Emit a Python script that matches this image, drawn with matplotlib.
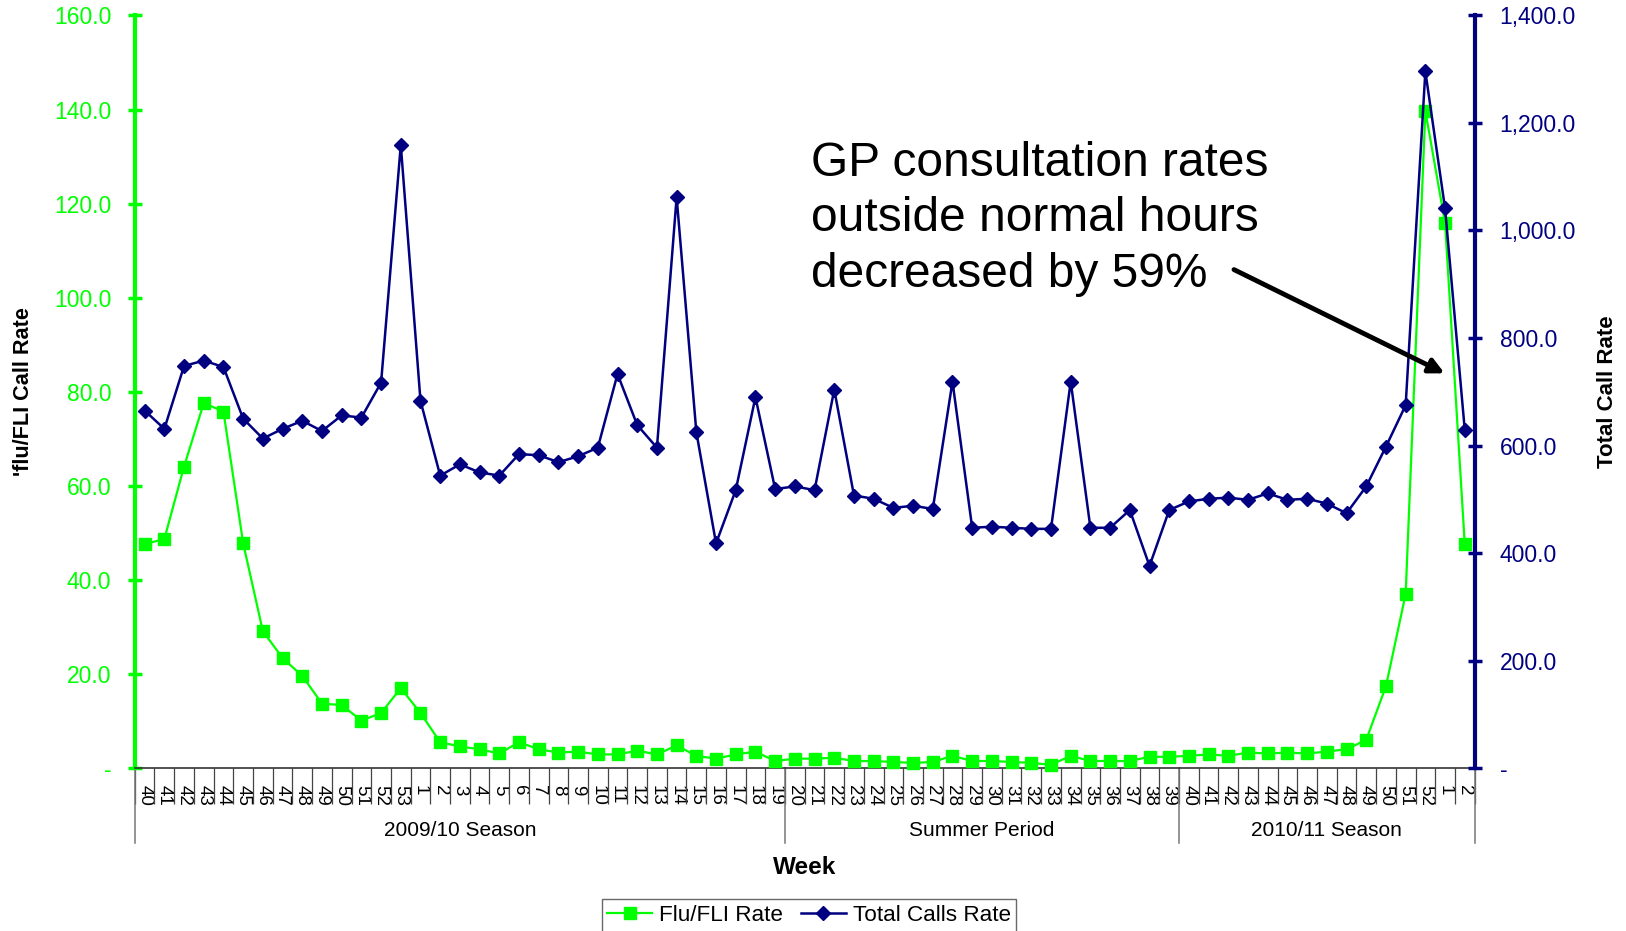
import numpy as np
import matplotlib
matplotlib.use("Agg")
import matplotlib.pyplot as plt
from matplotlib.lines import Line2D
from matplotlib.ticker import FixedLocator, FuncFormatter

plt.rcParams['font.family'] = ['Liberation Sans', 'DejaVu Sans']

# week numbers, 2009/10 season, summer period, 2010/11 season
weeks = [40, 41, 42, 43, 44, 45, 46, 47, 48, 49, 50, 51, 52, 53,
         1, 2, 3, 4, 5, 6, 7, 8, 9, 10, 11, 12, 13, 14, 15, 16, 17, 18, 19,
         20, 21, 22, 23, 24, 25, 26, 27, 28, 29, 30, 31, 32, 33, 34, 35, 36, 37, 38, 39,
         40, 41, 42, 43, 44, 45, 46, 47, 48, 49, 50, 51, 52, 1, 2]

flu_rate = [47.6, 48.7, 64.1, 77.6, 75.8, 47.8, 29.1, 23.4, 19.6, 13.7, 13.4, 10.1, 11.7, 17.0,
            11.7, 5.5, 4.6, 4.0, 3.1, 5.5, 4.0, 3.3, 3.5, 2.9, 2.9, 3.7, 2.9, 4.8, 2.6, 2.0, 2.9, 3.5, 1.5,
            2.0, 2.0, 2.2, 1.5, 1.5, 1.3, 1.1, 1.3, 2.6, 1.5, 1.5, 1.3, 1.1, 0.7, 2.6, 1.5, 1.5, 1.5, 2.4, 2.4,
            2.6, 2.9, 2.6, 3.3, 3.1, 3.3, 3.1, 3.5, 4.0, 6.0, 17.4, 37.0, 139.7, 115.9, 47.6]

total_rate = [665, 631, 748, 758, 746, 650, 613, 631, 646, 627, 656, 652, 717, 1159,
              683, 544, 565, 550, 544, 584, 582, 569, 580, 596, 733, 638, 596, 1062, 625, 418, 517, 690, 519,
              524, 517, 704, 507, 501, 484, 488, 482, 719, 447, 449, 447, 445, 445, 719, 447, 447, 480, 376, 480,
              496, 501, 503, 499, 511, 499, 501, 492, 474, 524, 598, 675, 1296, 1041, 629]

periods = ["2009/10 Season", "Summer Period", "2010/11 Season"]
period_len = [33, 20, 15]

GREEN = "#00FF00"
NAVY = "#000080"

fig = plt.figure(figsize=(16.26, 9.31), dpi=100)
ax = fig.add_axes([0.0829, 0.175, 0.824, 0.8084])
ax2 = ax.twinx()

x = np.arange(len(weeks))
ax.plot(x, flu_rate, color=GREEN, lw=1.6, marker='s', markersize=9, label="Flu/FLI Rate", clip_on=False, zorder=3)
ax2.plot(x, total_rate, color=NAVY, lw=1.8, marker='D', markersize=7.5, label="Total Calls Rate", clip_on=False, zorder=3)

ax.set_xlim(-0.5, len(weeks) - 0.5)
ax.set_ylim(0, 160)
ax2.set_ylim(0, 1400)

ax.set_yticks(np.arange(0, 161, 20))
ax.yaxis.set_major_formatter(FuncFormatter(lambda v, p: "-" if v == 0 else f"{v:.1f}"))
ax2.set_yticks(np.arange(0, 1401, 200))
ax2.yaxis.set_major_formatter(FuncFormatter(lambda v, p: "-" if v == 0 else f"{v:,.1f}"))

ax.tick_params(axis='y', colors=GREEN, labelsize=16.5, direction='inout', length=10, width=2.5, pad=12)
ax2.tick_params(axis='y', colors=NAVY, labelsize=16.5, direction='inout', length=10, width=2.5, pad=13)

for s in ['top', 'right']:
    ax.spines[s].set_visible(False)
for s in ['top', 'left', 'bottom']:
    ax2.spines[s].set_visible(False)
ax.spines['left'].set_color(GREEN)
ax.spines['left'].set_linewidth(3)
ax2.spines['right'].set_color(NAVY)
ax2.spines['right'].set_linewidth(3)
ax.spines['bottom'].set_color('#333333')
ax.spines['bottom'].set_linewidth(1.2)

# category labels and separators
ax.set_xticks(x)
ax.set_xticklabels([str(w) for w in weeks], rotation=270, fontsize=13.5)
ax.tick_params(axis='x', which='major', length=0, pad=12)
ax.xaxis.set_minor_locator(FixedLocator(np.arange(-0.5, len(weeks), 1)))
ax.tick_params(axis='x', which='minor', length=26, width=0.9, color='#444444', direction='out')

edges = np.concatenate([[0], np.cumsum(period_len)]) - 0.5
trans = ax.get_xaxis_transform()
for e in edges:
    ax.add_line(Line2D([e, e], [0, -0.0997], transform=trans, color='#777777', lw=1.1, clip_on=False))
for i, name in enumerate(periods):
    ax.text((edges[i] + edges[i + 1]) / 2, -0.0824, name, transform=trans,
            ha='center', va='center', fontsize=15)

ax.text(0.5, -0.132, "Week", transform=ax.transAxes, ha='center', va='center',
        fontsize=17.5, fontweight='bold')

ax.set_ylabel("'flu/FLI Call Rate", fontsize=15.6, fontweight='bold')
ax.yaxis.set_label_coords(-0.075, 0.5)
ax2.set_ylabel("Total Call Rate", fontsize=16, fontweight='bold')
ax2.yaxis.set_label_coords(1.091, 0.5)

ax2.text(0.5047, 0.8335, "GP consultation rates\noutside normal hours\ndecreased by 59%",
         transform=ax2.transAxes, ha='left', va='top', fontsize=34.5, linespacing=1.3)
ax2.annotate("", xy=(0.9776, 0.5245), xycoords='axes fraction',
             xytext=(0.8204, 0.6623), textcoords='axes fraction',
             arrowprops=dict(arrowstyle='-|>', lw=3.5, color='black', mutation_scale=22,
                             shrinkA=0, shrinkB=0))

h1, l1 = ax.get_legend_handles_labels()
h2, l2 = ax2.get_legend_handles_labels()
fig.legend(h1 + h2, l1 + l2, loc='upper center', bbox_to_anchor=(809 / 1626, 1 - 888 / 931),
           ncol=2, fontsize=16.2, frameon=True, fancybox=False, edgecolor='#444444',
           handlelength=2.0, columnspacing=0.8, handletextpad=0.3, borderpad=0.25)

fig.savefig("out.png", dpi=100)
